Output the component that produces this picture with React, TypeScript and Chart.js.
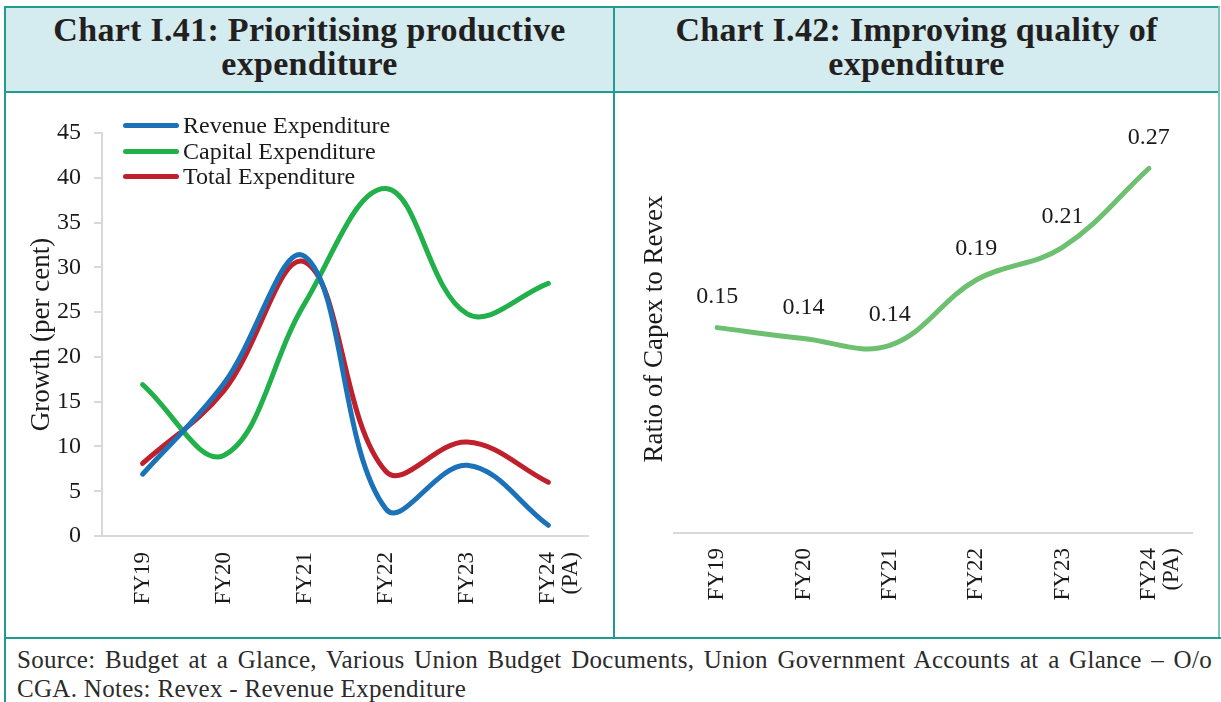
import React, { useEffect, useRef } from 'react';
import { Chart, registerables } from 'chart.js';

Chart.register(...registerables);

// ---------- data ----------
const categories: (string | string[])[] = ['FY19', 'FY20', 'FY21', 'FY22', 'FY23', ['FY24', '(PA)']];
const revenueExpenditure = [6.9, 17.0, 31.2, 3.0, 7.9, 1.2];
const capitalExpenditure = [16.9, 9.0, 26.0, 38.8, 24.8, 28.2];
const totalExpenditure = [8.1, 16.2, 30.6, 7.2, 10.5, 6.0];
const capexToRevex = [0.151, 0.143, 0.138, 0.186, 0.21, 0.268];

const growthMin = 0;
const growthMax = 45;
const growthStep = 5;
const ratioMin = 0;
const ratioMax = 0.3;

const seriesNames = ['Revenue Expenditure', 'Capital Expenditure', 'Total Expenditure'];
const seriesColors = ['#1b72b8', '#22b04b', '#c0202b'];
const ratioColor = '#6cc070';

const SERIF = "'Liberation Serif', 'Times New Roman', serif";
const TEAL = '#1f9c8d';
const TEXT = '#1a1a1a';
const GRID = '#d9d9d9';

const pointLabelPlugin = {
  id: 'pointLabels',
  afterDatasetsDraw(chart: any) {
    const { ctx } = chart;
    const meta = chart.getDatasetMeta(0);
    const data = chart.data.datasets[0].data as number[];
    ctx.save();
    ctx.font = `24px ${SERIF}`;
    ctx.fillStyle = TEXT;
    ctx.textAlign = 'center';
    ctx.textBaseline = 'middle';
    meta.data.forEach((pt: any, i: number) => {
      ctx.fillText(Number(data[i]).toFixed(2), pt.x, pt.y - 31);
    });
    ctx.restore();
  },
};

function GrowthChart() {
  const ref = useRef<HTMLCanvasElement>(null);
  useEffect(() => {
    const seriesData = [revenueExpenditure, capitalExpenditure, totalExpenditure];
    const chart = new Chart(ref.current!, {
      type: 'line',
      data: {
        labels: categories as any,
        datasets: seriesData.map((d, i) => ({
          label: seriesNames[i],
          data: d,
          borderColor: seriesColors[i],
          backgroundColor: seriesColors[i],
          borderWidth: 5,
          borderCapStyle: 'round' as const,
          borderJoinStyle: 'round' as const,
          pointRadius: 0,
          tension: 0.38,
          fill: false,
        })),
      },
      options: {
        animation: false,
        responsive: false,
        events: [],
        layout: { padding: { top: 39, right: 8, left: 0, bottom: 0 } },
        plugins: { legend: { display: false }, tooltip: { enabled: false } },
        scales: {
          x: {
            offset: true,
            grid: { display: false, drawTicks: false },
            border: { display: true, color: GRID, width: 2 },
            ticks: {
              minRotation: 90,
              maxRotation: 90,
              autoSkip: false,
              padding: 16,
              color: TEXT,
              font: { family: SERIF, size: 23, lineHeight: 1.0 },
            },
            afterFit: (s: any) => {
              s.height = 100;
            },
          },
          y: {
            min: growthMin,
            max: growthMax,
            ticks: { stepSize: growthStep, padding: 13, color: TEXT, font: { family: SERIF, size: 24 } },
            grid: { drawOnChartArea: false, drawTicks: true, tickLength: 8, color: GRID, lineWidth: 2 },
            border: { display: true, color: GRID, width: 2 },
            title: {
              display: true,
              text: 'Growth (per cent)',
              color: TEXT,
              font: { family: SERIF, size: 27 },
              padding: { top: 19, bottom: 0 },
            },
            afterFit: (s: any) => {
              s.width = 95;
            },
          },
        },
      },
    });
    return () => chart.destroy();
  }, []);
  return <canvas ref={ref} width={604} height={542} style={{ position: 'absolute', left: 7, top: 94 }} />;
}

function RatioChart() {
  const ref = useRef<HTMLCanvasElement>(null);
  useEffect(() => {
    const chart = new Chart(ref.current!, {
      type: 'line',
      data: {
        labels: categories as any,
        datasets: [
          {
            label: 'Ratio of Capex to Revex',
            data: capexToRevex,
            borderColor: ratioColor,
            backgroundColor: ratioColor,
            borderWidth: 5,
            borderCapStyle: 'round' as const,
            borderJoinStyle: 'round' as const,
            pointRadius: 0,
            tension: 0.38,
            fill: false,
          },
        ],
      },
      options: {
        animation: false,
        responsive: false,
        events: [],
        layout: { padding: { top: 31, right: 24, left: 0, bottom: 0 } },
        plugins: { legend: { display: false }, tooltip: { enabled: false } },
        scales: {
          x: {
            offset: true,
            grid: { display: false, drawTicks: false },
            border: { display: true, color: GRID, width: 2 },
            ticks: {
              minRotation: 90,
              maxRotation: 90,
              autoSkip: false,
              padding: 15,
              color: TEXT,
              font: { family: SERIF, size: 23, lineHeight: 1.0 },
            },
            afterFit: (s: any) => {
              s.height = 103;
            },
          },
          y: {
            min: ratioMin,
            max: ratioMax,
            ticks: { display: false },
            grid: { display: false, drawTicks: false },
            border: { display: false },
            title: {
              display: true,
              text: 'Ratio of Capex to Revex',
              color: TEXT,
              font: { family: SERIF, size: 27 },
              padding: { top: 23, bottom: 0 },
            },
            afterFit: (s: any) => {
              s.width = 58;
            },
          },
        },
      },
      plugins: [pointLabelPlugin],
    });
    return () => chart.destroy();
  }, []);
  return <canvas ref={ref} width={600} height={542} style={{ position: 'absolute', left: 616, top: 94 }} />;
}

function Line(props: { left: number; top: number; width: number; height: number; color?: string }) {
  return (
    <div
      style={{
        position: 'absolute',
        left: props.left,
        top: props.top,
        width: props.width,
        height: props.height,
        background: props.color || TEAL,
      }}
    />
  );
}

const titleStyle: React.CSSProperties = {
  position: 'absolute',
  top: 5,
  height: 84,
  display: 'flex',
  alignItems: 'center',
  justifyContent: 'center',
  textAlign: 'center',
  fontFamily: SERIF,
  fontWeight: 'bold',
  fontSize: 34,
  lineHeight: '34px',
  letterSpacing: '0.3px',
  color: '#231f20',
};

export default function App() {
  return (
    <div
      style={{
        position: 'absolute',
        left: 0,
        top: 0,
        width: 1221,
        height: 702,
        overflow: 'hidden',
        background: '#ffffff',
        fontFamily: SERIF,
      }}
    >
      {/* header background */}
      <div style={{ position: 'absolute', left: 5, top: 7, width: 1214, height: 85, background: '#d4ecef' }} />
      <div style={{ ...titleStyle, left: 6, width: 607 }}>
        <div>
          Chart I.41: Prioritising productive
          <br />
          expenditure
        </div>
      </div>
      <div style={{ ...titleStyle, left: 615, width: 603 }}>
        <div>
          Chart I.42: Improving quality of
          <br />
          expenditure
        </div>
      </div>

      <GrowthChart />
      <RatioChart />

      {/* legend for left chart */}
      <div style={{ position: 'absolute', left: 123, top: 113 }}>
        {seriesNames.map((n, i) => (
          <div key={n} style={{ display: 'flex', alignItems: 'center', height: 25.5 }}>
            <div style={{ width: 56, height: 5, borderRadius: 3, background: seriesColors[i] }} />
            <div style={{ marginLeft: 4, fontSize: 24, lineHeight: '25px', color: TEXT, whiteSpace: 'nowrap' }}>{n}</div>
          </div>
        ))}
      </div>

      {/* frame lines */}
      <Line left={4} top={6} width={1216} height={2} />
      <Line left={4} top={91} width={1216} height={2} />
      <Line left={4} top={6} width={2} height={700} />
      <Line left={613} top={6} width={2} height={632} />
      <Line left={1218} top={6} width={2} height={632} color="#7cc6bd" />
      <Line left={4} top={637} width={1217} height={2} />

      {/* footer */}
      <div
        style={{
          position: 'absolute',
          left: 17,
          top: 645,
          width: 1195,
          fontSize: 25,
          lineHeight: '29px',
          letterSpacing: '0.3px',
          color: '#2b2b2b',
        }}
      >
        <div style={{ textAlign: 'justify', textAlignLast: 'justify', whiteSpace: 'nowrap' as any }}>
          Source: Budget at a Glance, Various Union Budget Documents, Union Government Accounts at a Glance – O/o
        </div>
        <div>CGA. Notes: Revex - Revenue Expenditure</div>
      </div>
    </div>
  );
}
